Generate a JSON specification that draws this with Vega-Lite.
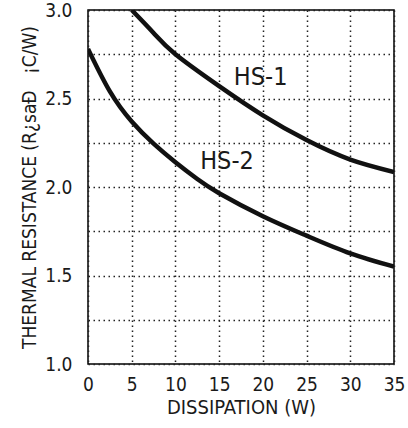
{
  "$schema": "https://vega.github.io/schema/vega-lite/v6.json",
  "width": 306,
  "height": 354,
  "autosize": {"type": "none"},
  "padding": {"left": 88, "top": 10, "right": 14, "bottom": 64},
  "background": "#ffffff",
  "config": {
    "view": {"stroke": "#000000", "strokeWidth": 1.5},
    "font": "Liberation Sans Narrow, DejaVu Sans Condensed, Liberation Sans",
    "axis": {
      "labelFont": "Liberation Sans Narrow, DejaVu Sans Condensed, Liberation Sans",
      "titleFont": "Liberation Sans Narrow, DejaVu Sans Condensed, Liberation Sans",
      "labelFontSize": 19,
      "titleFontSize": 19,
      "titleFontWeight": "normal",
      "labelColor": "#1a1a1a",
      "titleColor": "#1a1a1a",
      "grid": true,
      "gridColor": "#222222",
      "gridDash": [1.5, 3.5],
      "gridWidth": 1.5,
      "gridOpacity": 1,
      "ticks": false,
      "domain": false,
      "labelFlush": false,
      "labelOverlap": false
    }
  },
  "datasets": {
    "curves": [
      {"series": "HS-1", "dissipation": 5, "resistance": 3.0},
      {"series": "HS-1", "dissipation": 7.5, "resistance": 2.87},
      {"series": "HS-1", "dissipation": 10, "resistance": 2.75},
      {"series": "HS-1", "dissipation": 15, "resistance": 2.57},
      {"series": "HS-1", "dissipation": 20, "resistance": 2.405},
      {"series": "HS-1", "dissipation": 25, "resistance": 2.265},
      {"series": "HS-1", "dissipation": 30, "resistance": 2.155},
      {"series": "HS-1", "dissipation": 35, "resistance": 2.085},
      {"series": "HS-2", "dissipation": 0, "resistance": 2.78},
      {"series": "HS-2", "dissipation": 2.5, "resistance": 2.54},
      {"series": "HS-2", "dissipation": 5, "resistance": 2.37},
      {"series": "HS-2", "dissipation": 7.5, "resistance": 2.245},
      {"series": "HS-2", "dissipation": 10, "resistance": 2.14},
      {"series": "HS-2", "dissipation": 12.5, "resistance": 2.045},
      {"series": "HS-2", "dissipation": 15, "resistance": 1.965},
      {"series": "HS-2", "dissipation": 20, "resistance": 1.835},
      {"series": "HS-2", "dissipation": 25, "resistance": 1.725},
      {"series": "HS-2", "dissipation": 30, "resistance": 1.625},
      {"series": "HS-2", "dissipation": 35, "resistance": 1.55}
    ],
    "labels": [
      {"dissipation": 19.75, "resistance": 2.62, "text": "HS-1"},
      {"dissipation": 15.9, "resistance": 2.146, "text": "HS-2"}
    ]
  },
  "encoding": {
    "x": {
      "field": "dissipation",
      "type": "quantitative",
      "scale": {"domain": [0, 35], "nice": false, "zero": false},
      "axis": {
        "values": [0, 5, 10, 15, 20, 25, 30, 35],
        "labelPadding": 11,
        "title": "DISSIPATION (W)",
        "titleFontSize": 20,
        "titlePadding": 3
      }
    },
    "y": {
      "field": "resistance",
      "type": "quantitative",
      "scale": {"domain": [1, 3], "nice": false, "zero": false},
      "axis": {
        "values": [1, 1.25, 1.5, 1.75, 2, 2.25, 2.5, 2.75, 3],
        "labelExpr": "datum.value % 0.5 == 0 ? format(datum.value, '.1f') : ''",
        "labelPadding": 16,
        "title": "THERMAL RESISTANCE (R¿saÐ\u00a0\u00a0 ¡C/W)",
        "titlePadding": 5
      }
    }
  },
  "layer": [
    {
      "data": {"name": "curves"},
      "mark": {"type": "line", "interpolate": "natural", "color": "#111111", "strokeWidth": 4.5, "clip": true},
      "encoding": {"detail": {"field": "series"}}
    },
    {
      "data": {"name": "labels"},
      "mark": {"type": "text", "fontSize": 25, "color": "#1a1a1a", "align": "center", "baseline": "middle"},
      "encoding": {"text": {"field": "text"}}
    }
  ]
}
